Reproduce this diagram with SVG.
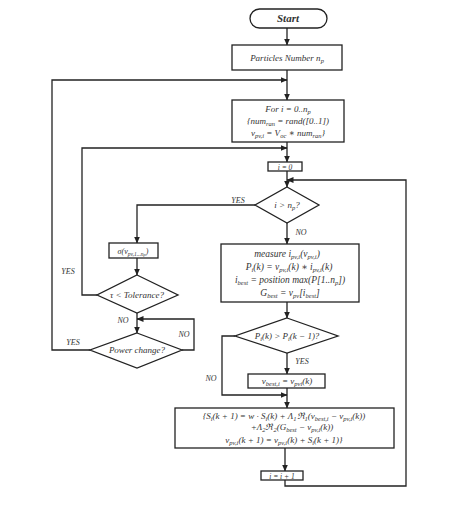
<svg xmlns="http://www.w3.org/2000/svg" width="474" height="508" viewBox="0 0 474 508">
<defs>
<style>
.b{fill:#fff;stroke:#222;stroke-width:1.3}
.c{fill:none;stroke:#222;stroke-width:1.3}
text{font-family:"Liberation Serif","DejaVu Serif",serif;font-style:italic;fill:#333;font-size:9px;text-anchor:middle}
.l{font-size:8px}
.m{font-size:9.5px}
.s{font-size:6.5px;baseline-shift:-2px}
</style>
<marker id="a" markerWidth="7" markerHeight="6" refX="6.5" refY="3" orient="auto" markerUnits="userSpaceOnUse"><path d="M0,0L7,3L0,6z" fill="#222"/></marker>
</defs>
<rect width="474" height="508" fill="#fff"/>
<g id="connectors" class="c" marker-end="url(#a)">
<path d="M287,28V45"/>
<path d="M287,70V100"/>
<path d="M90,350H52V80H287"/>
<path d="M287,142V162"/>
<path d="M97,295H82V148H287"/>
<path d="M287,171V187"/>
<path d="M285,480V486H406V180H287"/>
<path d="M255,205H137V243"/>
<path d="M137,258V275"/>
<path d="M137,313V333"/>
<path d="M182,350H194V319H137"/>
<path d="M287,223V244"/>
<path d="M287,302V318"/>
<path d="M287,353V374"/>
<path d="M235,336H222V395H287"/>
<path d="M287,388V408"/>
<path d="M285,448V471"/>
</g>
<g id="labels">
<text class="l" x="238" y="203">YES</text>
<text class="l" x="301" y="235">NO</text>
<text class="l" x="68" y="274">YES</text>
<text class="l" x="123" y="323">NO</text>
<text class="l" x="184" y="337">NO</text>
<text class="l" x="73" y="345">YES</text>
<text class="l" x="302" y="364">YES</text>
<text class="l" x="211" y="381">NO</text>
</g>
<g id="start"><rect class="b" x="250" y="9" width="77" height="19" rx="9.5"/><text x="288" y="22" style="font-size:11px;font-weight:bold">Start</text></g>
<g id="particles"><rect class="b" x="232" y="45" width="110" height="25"/><text x="287" y="61">Particles Number n<tspan class="s">p</tspan></text></g>
<g id="init"><rect class="b" x="232" y="100" width="112" height="42"/>
<text x="288" y="112">For  i = 0..n<tspan class="s">p</tspan></text>
<text x="288" y="124">{num<tspan class="s">ran</tspan> = rand([0..1])</text>
<text x="288" y="136">v<tspan class="s">pv,i</tspan> = V<tspan class="s">oc</tspan> ∗ num<tspan class="s">ran</tspan>}</text></g>
<g id="i0"><rect class="b" x="268" y="162" width="34" height="9"/><text x="285" y="169.5" style="font-size:7.5px">i = 0</text></g>
<g id="cond1"><path class="b" d="M287,187L319,205L287,223L255,205Z"/><text x="287" y="208">i &gt; n<tspan class="s">p</tspan>?</text></g>
<g id="sigma"><rect class="b" x="109" y="243" width="49" height="15"/><text x="133" y="253.5" style="font-size:8px">σ(v<tspan class="s" style="font-size:5.5px">pv,1...n</tspan><tspan class="s" style="font-size:4.5px">p</tspan>)</text></g>
<g id="tol"><path class="b" d="M137,275L178,295L137,313L97,295Z"/><text x="137" y="298">τ &lt; Tolerance?</text></g>
<g id="power"><path class="b" d="M137,333L182,350L137,368L90,350Z"/><text x="137" y="353">Power change?</text></g>
<g id="measure"><rect class="b" x="221" y="244" width="138" height="58"/>
<text class="m" x="287" y="257">measure  i<tspan class="s">pv,i</tspan>(v<tspan class="s">pv,i</tspan>)</text>
<text class="m" x="289" y="270">P<tspan class="s">i</tspan>(k) = v<tspan class="s">pv,i</tspan>(k) ∗ i<tspan class="s">pv,i</tspan>(k)</text>
<text class="m" x="290" y="283">i<tspan class="s">best</tspan> = position max(P[1..n<tspan class="s">p</tspan>])</text>
<text class="m" x="290" y="296">G<tspan class="s">best</tspan> = v<tspan class="s">pv</tspan>[i<tspan class="s">best</tspan>]</text></g>
<g id="cond2"><path class="b" d="M287,318L338,336L287,353L235,336Z"/><text x="287" y="339">P<tspan class="s">i</tspan>(k) &gt; P<tspan class="s">i</tspan>(k − 1)?</text></g>
<g id="vbest"><rect class="b" x="248" y="374" width="77" height="14"/><text x="287" y="384">v<tspan class="s">best,i</tspan> = v<tspan class="s">pvi</tspan>(k)</text></g>
<g id="update"><rect class="b" x="175" y="408" width="219" height="40"/>
<text x="284" y="419">{S<tspan class="s">i</tspan>(k + 1) = w · S<tspan class="s">i</tspan>(k) + Λ<tspan class="s">1</tspan>ℜ<tspan class="s">1</tspan>(v<tspan class="s">best,i</tspan> − v<tspan class="s">pv,i</tspan>(k))</text>
<text x="292" y="430">+Λ<tspan class="s">2</tspan>ℜ<tspan class="s">2</tspan>(G<tspan class="s">best</tspan> − v<tspan class="s">pv,i</tspan>(k))</text>
<text x="284" y="443">v<tspan class="s">pv,i</tspan>(k + 1) = v<tspan class="s">pv,i</tspan>(k) + S<tspan class="s">i</tspan>(k + 1)}</text></g>
<g id="incr"><rect class="b" x="261" y="471" width="42" height="9"/><text x="282" y="478.5" style="font-size:7.5px">i = i + 1</text></g>
</svg>
